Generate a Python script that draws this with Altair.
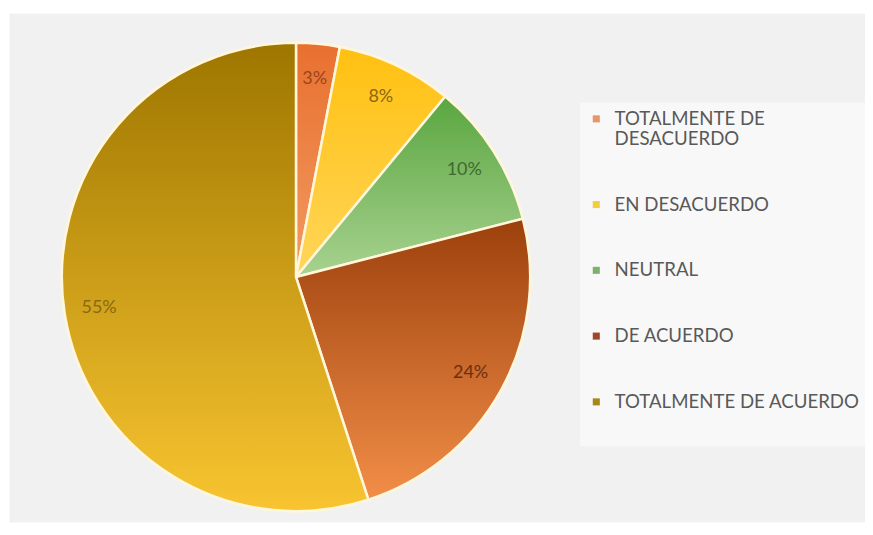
import altair as alt
import pandas as pd

# ---- data ----
categories = [
    "TOTALMENTE DE DESACUERDO",
    "EN DESACUERDO",
    "NEUTRAL",
    "DE ACUERDO",
    "TOTALMENTE DE ACUERDO",
]
percentages = [3, 8, 10, 24, 55]
pct_labels = ["3%", "8%", "10%", "24%", "55%"]

# ---- styles ----
legend_colors = ["#e8956a", "#f2cf3a", "#7cb36a", "#a0452a", "#a8871a"]
grad_top = ["#e8702e", "#ffc010", "#5aa640", "#9c400c", "#9e7600"]
grad_bottom = ["#f29a62", "#ffd65a", "#a8d290", "#f28e48", "#f8c430"]
text_colors = ["#9a4420", "#8a6810", "#3f6a30", "#6a3010", "#8a6a10"]

df = pd.DataFrame({
    "categoria": categories,
    "valor": percentages,
    "etiqueta": pct_labels,
    "orden": list(range(len(categories))),
})

CX, CY, R = 288, 265, 235

base = (
    alt.Chart(df)
    .transform_window(cum="sum(valor)", sort=[alt.SortField("orden")], frame=[None, 0])
    .transform_calculate(start="datum.cum - datum.valor", mid="datum.cum - datum.valor / 2")
)

theta_scale = alt.Scale(domain=[0, 100], range=[0, 6.283185307])

legend = alt.Legend(
    title=" ",
    titleOrient="bottom",
    titleFontSize=18,
    titlePadding=10,
    orient="none",
    legendX=573,
    legendY=90,
    fillColor="#f8f8f8",
    padding=7,
    labelFont="Lato",
    labelFontSize=18.7,
    labelColor="#595959",
    labelLimit=400,
    labelOffset=9,
    symbolType="square",
    symbolSize=50,
    symbolStrokeWidth=0,
    rowPadding=46,
    labelExpr="datum.label == 'TOTALMENTE DE DESACUERDO' ? ['TOTALMENTE DE', 'DESACUERDO'] : datum.label",
)

legend_layer = base.mark_arc(radius=R, stroke="#fff6dc", strokeWidth=2.5).encode(
    theta=alt.Theta("start:Q", scale=theta_scale),
    theta2="cum:Q",
    x=alt.value(CX),
    y=alt.value(CY),
    color=alt.Color(
        "categoria:N",
        sort=categories,
        scale=alt.Scale(domain=categories, range=legend_colors),
        legend=legend,
    ),
)

layers = [legend_layer]
for cat, top, bot in zip(categories, grad_top, grad_bottom):
    grad = alt.LinearGradient(
        gradient="linear",
        stops=[alt.GradientStop(color=top, offset=0), alt.GradientStop(color=bot, offset=1)],
        x1=0, x2=0, y1=0, y2=1,
    )
    layers.append(
        base.transform_filter(alt.datum.categoria == cat)
        .mark_arc(radius=R, color=grad, stroke="#fff6dc", strokeWidth=2.5)
        .encode(
            theta=alt.Theta("start:Q", scale=theta_scale),
            theta2="cum:Q",
            x=alt.value(CX),
            y=alt.value(CY),
        )
    )

text_layer = base.mark_text(radius=200, font="Lato", fontSize=18).encode(
    theta=alt.Theta("mid:Q", scale=theta_scale),
    x=alt.value(CX),
    y=alt.value(CY),
    text="etiqueta:N",
    color=alt.Color("categoria:N", scale=alt.Scale(domain=categories, range=text_colors), legend=None),
)

chart = (
    alt.layer(*layers, text_layer)
    .resolve_scale(color="independent")
    .properties(
        width=859,
        height=511,
        autosize=alt.AutoSizeParams(type="none"),
        padding={"left": 1, "top": 4, "right": 0, "bottom": 0},
        background="white",
    )
    .configure_view(fill="#f1f1f1", stroke="transparent")
)

chart.save("out.html", embed_options={"renderer": "svg", "actions": False})
